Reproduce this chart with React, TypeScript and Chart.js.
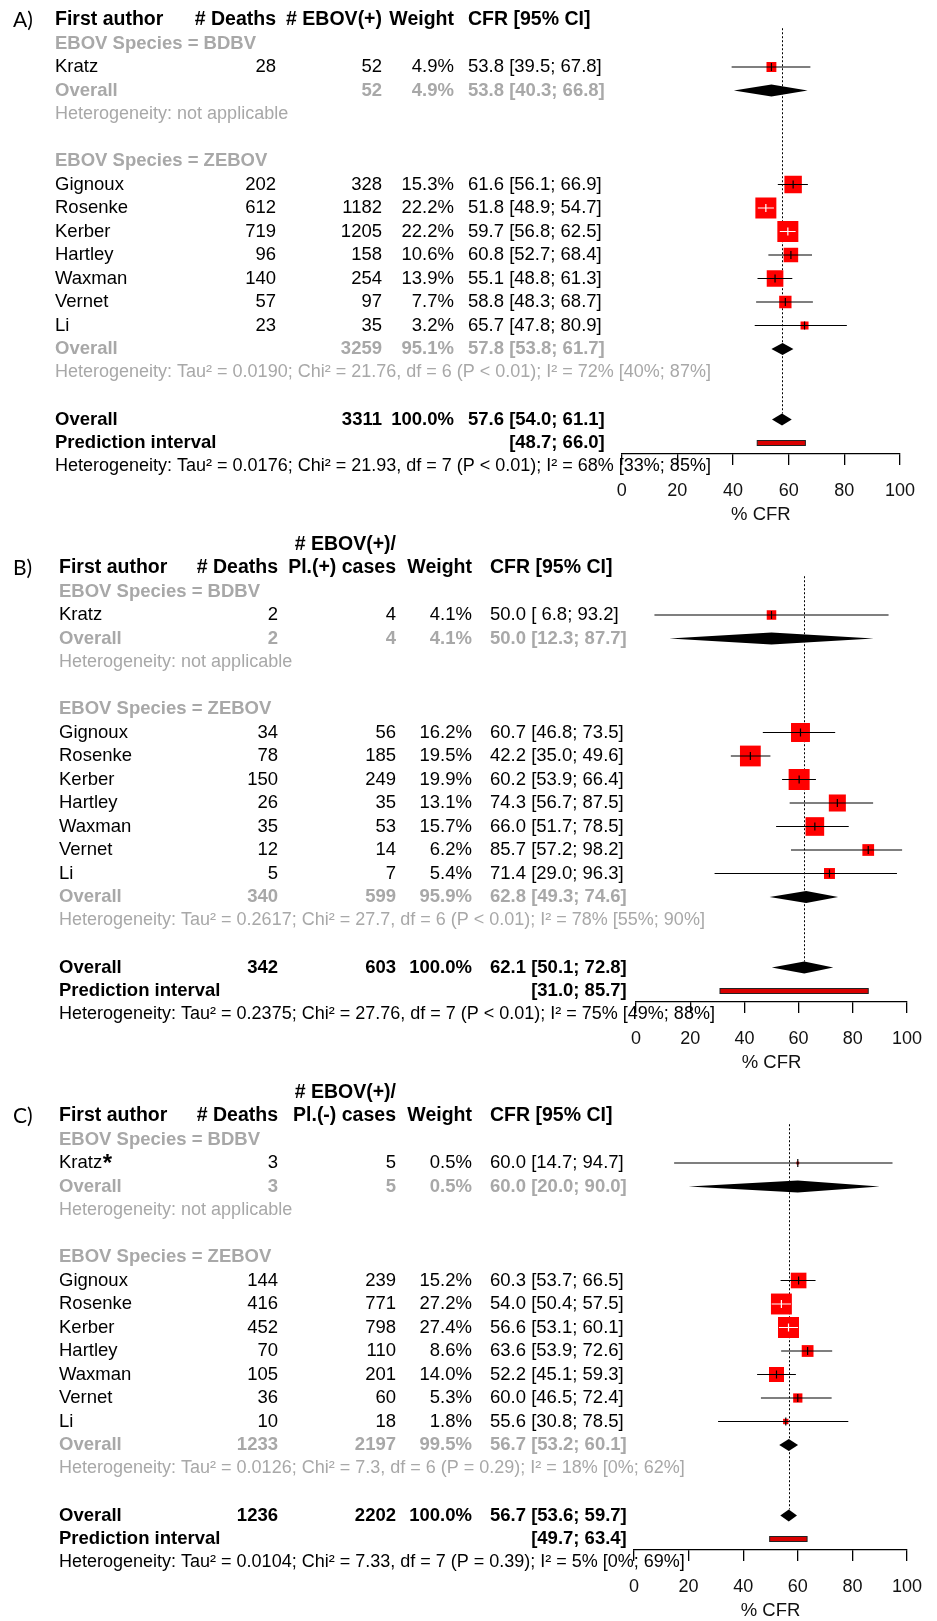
import React, { useEffect, useRef } from "react";
import { Chart, registerables } from "chart.js";

Chart.register(...registerables);

// ---------------- DATA ----------------
const studyNames = ["Kratz", "Gignoux", "Rosenke", "Kerber", "Hartley", "Waxman", "Vernet", "Li"];
const studyNamesC = ["Kratz*", "Gignoux", "Rosenke", "Kerber", "Hartley", "Waxman", "Vernet", "Li"];
const studyGroups = ["BDBV", "ZEBOV", "ZEBOV", "ZEBOV", "ZEBOV", "ZEBOV", "ZEBOV", "ZEBOV"];
const groupNames = ["BDBV", "ZEBOV"];
const groupLabels = ["EBOV Species = BDBV", "EBOV Species = ZEBOV"];
const xTicks = [0, 20, 40, 60, 80, 100];

// Panel A
const aDeaths = [28, 202, 612, 719, 96, 140, 57, 23];
const aCases = [52, 328, 1182, 1205, 158, 254, 97, 35];
const aWeight = [4.9, 15.3, 22.2, 22.2, 10.6, 13.9, 7.7, 3.2];
const aCfr = [53.8, 61.6, 51.8, 59.7, 60.8, 55.1, 58.8, 65.7];
const aLower = [39.5, 56.1, 48.9, 56.8, 52.7, 48.8, 48.3, 47.8];
const aUpper = [67.8, 66.9, 54.7, 62.5, 68.4, 61.3, 68.7, 80.9];
const aSubDeaths = [null, null];
const aSubCases = [52, 3259];
const aSubWeight = [4.9, 95.1];
const aSubCfr = [53.8, 57.8];
const aSubLower = [40.3, 53.8];
const aSubUpper = [66.8, 61.7];
const aSubHet = [
  "Heterogeneity: not applicable",
  "Heterogeneity: Tau² = 0.0190; Chi² = 21.76, df = 6 (P < 0.01); I² = 72% [40%; 87%]",
];
const aTotal = { deaths: null, cases: 3311, weight: 100.0, cfr: 57.6, lower: 54.0, upper: 61.1 };
const aPred = [48.7, 66.0];
const aTotalHet = "Heterogeneity: Tau² = 0.0176; Chi² = 21.93, df = 7 (P < 0.01); I² = 68% [33%; 85%]";

// Panel B
const bDeaths = [2, 34, 78, 150, 26, 35, 12, 5];
const bCases = [4, 56, 185, 249, 35, 53, 14, 7];
const bWeight = [4.1, 16.2, 19.5, 19.9, 13.1, 15.7, 6.2, 5.4];
const bCfr = [50.0, 60.7, 42.2, 60.2, 74.3, 66.0, 85.7, 71.4];
const bLower = [6.8, 46.8, 35.0, 53.9, 56.7, 51.7, 57.2, 29.0];
const bUpper = [93.2, 73.5, 49.6, 66.4, 87.5, 78.5, 98.2, 96.3];
const bSubDeaths = [2, 340];
const bSubCases = [4, 599];
const bSubWeight = [4.1, 95.9];
const bSubCfr = [50.0, 62.8];
const bSubLower = [12.3, 49.3];
const bSubUpper = [87.7, 74.6];
const bSubHet = [
  "Heterogeneity: not applicable",
  "Heterogeneity: Tau² = 0.2617; Chi² = 27.7, df = 6 (P < 0.01); I² = 78% [55%; 90%]",
];
const bTotal = { deaths: 342, cases: 603, weight: 100.0, cfr: 62.1, lower: 50.1, upper: 72.8 };
const bPred = [31.0, 85.7];
const bTotalHet = "Heterogeneity: Tau² = 0.2375; Chi² = 27.76, df = 7 (P < 0.01); I² = 75% [49%; 88%]";

// Panel C
const cDeaths = [3, 144, 416, 452, 70, 105, 36, 10];
const cCases = [5, 239, 771, 798, 110, 201, 60, 18];
const cWeight = [0.5, 15.2, 27.2, 27.4, 8.6, 14.0, 5.3, 1.8];
const cCfr = [60.0, 60.3, 54.0, 56.6, 63.6, 52.2, 60.0, 55.6];
const cLower = [14.7, 53.7, 50.4, 53.1, 53.9, 45.1, 46.5, 30.8];
const cUpper = [94.7, 66.5, 57.5, 60.1, 72.6, 59.3, 72.4, 78.5];
const cSubDeaths = [3, 1233];
const cSubCases = [5, 2197];
const cSubWeight = [0.5, 99.5];
const cSubCfr = [60.0, 56.7];
const cSubLower = [20.0, 53.2];
const cSubUpper = [90.0, 60.1];
const cSubHet = [
  "Heterogeneity: not applicable",
  "Heterogeneity: Tau² = 0.0126; Chi² = 7.3, df = 6 (P = 0.29); I² = 18% [0%; 62%]",
];
const cTotal = { deaths: 1236, cases: 2202, weight: 100.0, cfr: 56.7, lower: 53.6, upper: 59.7 };
const cPred = [49.7, 63.4];
const cTotalHet = "Heterogeneity: Tau² = 0.0104; Chi² = 7.33, df = 7 (P = 0.39); I² = 5% [0%; 69%]";

// ---------------- STYLE / LAYOUT ----------------
const FONT = "'Liberation Sans', Arial, Helvetica, sans-serif";
const F_HEAD = `bold 19.5px ${FONT}`;
const F_REG = `18.5px ${FONT}`;
const F_BOLD = `bold 18.5px ${FONT}`;
const F_HET = `18px ${FONT}`;
const F_STAR = `bold 24px ${FONT}`;
const F_LETTER = `21px Lato, 'Open Sans', sans-serif`;
const GRAY = "#a8a8a8";
const BLACK = "#000000";
const RED = "#ff0000";
const ROW_STEP = 23.5;
const AXIS_ROW = 18.47;
const MAX_SIDE = 21;
const TITLE_SIZE = 18.5;

const layoutA = { height: 530, rowTop: 20, letterX: 13, nameX: 55, deathsR: 276, casesR: 382, weightR: 454, cfrL: 468, axisL: 621.7, axisR: 900 };
const layoutB = { height: 548, rowTop: 38, letterX: 13, nameX: 59, deathsR: 278, casesR: 396, weightR: 472, cfrL: 490, axisL: 636, axisR: 914 };
const layoutC = { height: 543, rowTop: 38, letterX: 13, nameX: 59, deathsR: 278, casesR: 396, weightR: 472, cfrL: 490, axisL: 634, axisR: 912 };

function fmt1(v: number) {
  return v.toFixed(1);
}
function padCI(v: number) {
  return v < 10 ? " " + v.toFixed(1) : v.toFixed(1);
}
function ciText(est: number, lo: number, hi: number) {
  return `${fmt1(est)} [${padCI(lo)}; ${padCI(hi)}]`;
}

function buildPanel(
  letter: string, names: string[], headTop: string | null, headCases: string,
  deaths: number[], cases: number[], weight: number[], cfr: number[], lower: number[], upper: number[],
  subDeaths: any[], subCases: number[], subWeight: number[], subCfr: number[], subLower: number[], subUpper: number[], subHet: string[],
  total: any, pred: number[], totalHet: string, layout: any
) {
  let r = 1;
  const studyRows: number[] = [];
  const groupRows: number[] = [];
  const subRows: number[] = [];
  const hetRows: number[] = [];
  groupNames.forEach((g) => {
    groupRows.push(r++);
    names.forEach((_, i) => {
      if (studyGroups[i] === g) studyRows[i] = r++;
    });
    subRows.push(r++);
    hetRows.push(r++);
    r++;
  });
  return {
    letter, names, headTop, headCases, deaths, cases, weight, cfr, lower, upper,
    subDeaths, subCases, subWeight, subCfr, subLower, subUpper, subHet,
    total, pred, totalHet, layout,
    studyRows, groupRows, subRows, hetRows, totRow: r, predRow: r + 1, totHetRow: r + 2,
  };
}

const panels = [
  buildPanel("A)", studyNames, null, "# EBOV(+)", aDeaths, aCases, aWeight, aCfr, aLower, aUpper,
    aSubDeaths, aSubCases, aSubWeight, aSubCfr, aSubLower, aSubUpper, aSubHet, aTotal, aPred, aTotalHet, layoutA),
  buildPanel("B)", studyNames, "# EBOV(+)/", "Pl.(+) cases", bDeaths, bCases, bWeight, bCfr, bLower, bUpper,
    bSubDeaths, bSubCases, bSubWeight, bSubCfr, bSubLower, bSubUpper, bSubHet, bTotal, bPred, bTotalHet, layoutB),
  buildPanel("C)", studyNamesC, "# EBOV(+)/", "Pl.(-) cases", cDeaths, cCases, cWeight, cCfr, cLower, cUpper,
    cSubDeaths, cSubCases, cSubWeight, cSubCfr, cSubLower, cSubUpper, cSubHet, cTotal, cPred, cTotalHet, layoutC),
];

function txt(ctx: CanvasRenderingContext2D, s: string, x: number, y: number, font: string, color: string, align: CanvasTextAlign) {
  ctx.font = font;
  ctx.fillStyle = color;
  ctx.textAlign = align;
  ctx.textBaseline = "middle";
  ctx.fillText(s, x, y);
}

function makePlugin(p: any, sides: number[]) {
  const L = p.layout;
  return {
    id: "forest" + p.letter.charAt(0),
    beforeDatasetsDraw(chart: any) {
      const { ctx } = chart;
      const xs = chart.scales.x;
      const ys = chart.scales.y;
      const x = Math.round(xs.getPixelForValue(p.total.cfr)) + 0.5;
      ctx.save();
      ctx.setLineDash([2, 2]);
      ctx.strokeStyle = BLACK;
      ctx.lineWidth = 1;
      ctx.beginPath();
      ctx.moveTo(x, ys.getPixelForValue(0.35));
      ctx.lineTo(x, ys.getPixelForValue(p.totRow) - 6);
      ctx.stroke();
      ctx.restore();
    },
    afterDatasetsDraw(chart: any) {
      const { ctx } = chart;
      const xs = chart.scales.x;
      const ys = chart.scales.y;
      ctx.save();
      p.cfr.forEach((est: number, i: number) => {
        const y = ys.getPixelForValue(p.studyRows[i]);
        const xl = xs.getPixelForValue(p.lower[i]);
        const xu = xs.getPixelForValue(p.upper[i]);
        const xe = xs.getPixelForValue(est);
        const inside = xu - xl <= sides[i];
        ctx.strokeStyle = inside ? "#ffffff" : BLACK;
        ctx.lineWidth = 1.2;
        ctx.beginPath();
        ctx.moveTo(xl, y);
        ctx.lineTo(xu, y);
        ctx.moveTo(xe, y - 4);
        ctx.lineTo(xe, y + 4);
        ctx.stroke();
      });
      const diamond = (est: number, lo: number, hi: number, row: number) => {
        const y = ys.getPixelForValue(row);
        const xl = xs.getPixelForValue(lo);
        const xu = xs.getPixelForValue(hi);
        const xe = xs.getPixelForValue(est);
        ctx.fillStyle = BLACK;
        ctx.beginPath();
        ctx.moveTo(xl, y);
        ctx.lineTo(xe, y - 6);
        ctx.lineTo(xu, y);
        ctx.lineTo(xe, y + 6);
        ctx.closePath();
        ctx.fill();
      };
      p.subCfr.forEach((est: number, g: number) => diamond(est, p.subLower[g], p.subUpper[g], p.subRows[g]));
      diamond(p.total.cfr, p.total.lower, p.total.upper, p.totRow);
      const yp = ys.getPixelForValue(p.predRow);
      const pl = xs.getPixelForValue(p.pred[0]);
      const pu = xs.getPixelForValue(p.pred[1]);
      ctx.fillStyle = "#d90000";
      ctx.fillRect(pl, yp - 2.5, pu - pl, 5);
      ctx.strokeStyle = "#222222";
      ctx.lineWidth = 1;
      ctx.strokeRect(pl, yp - 2.5, pu - pl, 5);
      ctx.restore();
    },
    afterDraw(chart: any) {
      const { ctx } = chart;
      const ys = chart.scales.y;
      const Y = (row: number) => ys.getPixelForValue(row);
      ctx.save();
      txt(ctx, p.letter, L.letterX, Y(0), F_LETTER, BLACK, "left");
      txt(ctx, "First author", L.nameX, Y(0), F_HEAD, BLACK, "left");
      txt(ctx, "# Deaths", L.deathsR, Y(0), F_HEAD, BLACK, "right");
      if (p.headTop) txt(ctx, p.headTop, L.casesR, Y(-1), F_HEAD, BLACK, "right");
      txt(ctx, p.headCases, L.casesR, Y(0), F_HEAD, BLACK, "right");
      txt(ctx, "Weight", L.weightR, Y(0), F_HEAD, BLACK, "right");
      txt(ctx, "CFR [95% CI]", L.cfrL, Y(0), F_HEAD, BLACK, "left");
      groupNames.forEach((_, g) => {
        txt(ctx, groupLabels[g], L.nameX, Y(p.groupRows[g]), F_BOLD, GRAY, "left");
        const yo = Y(p.subRows[g]);
        txt(ctx, "Overall", L.nameX, yo, F_BOLD, GRAY, "left");
        if (p.subDeaths[g] !== null) txt(ctx, String(p.subDeaths[g]), L.deathsR, yo, F_BOLD, GRAY, "right");
        txt(ctx, String(p.subCases[g]), L.casesR, yo, F_BOLD, GRAY, "right");
        txt(ctx, fmt1(p.subWeight[g]) + "%", L.weightR, yo, F_BOLD, GRAY, "right");
        txt(ctx, ciText(p.subCfr[g], p.subLower[g], p.subUpper[g]), L.cfrL, yo, F_BOLD, GRAY, "left");
        txt(ctx, p.subHet[g], L.nameX, Y(p.hetRows[g]), F_HET, GRAY, "left");
      });
      p.names.forEach((n: string, i: number) => {
        const y = Y(p.studyRows[i]);
        if (n.endsWith("*")) {
          const base = n.slice(0, -1);
          txt(ctx, base, L.nameX, y, F_REG, BLACK, "left");
          ctx.font = F_REG;
          const w = ctx.measureText(base).width;
          txt(ctx, "*", L.nameX + w + 0.5, y + 1, F_STAR, BLACK, "left");
        } else {
          txt(ctx, n, L.nameX, y, F_REG, BLACK, "left");
        }
        txt(ctx, String(p.deaths[i]), L.deathsR, y, F_REG, BLACK, "right");
        txt(ctx, String(p.cases[i]), L.casesR, y, F_REG, BLACK, "right");
        txt(ctx, fmt1(p.weight[i]) + "%", L.weightR, y, F_REG, BLACK, "right");
        txt(ctx, ciText(p.cfr[i], p.lower[i], p.upper[i]), L.cfrL, y, F_REG, BLACK, "left");
      });
      const yt = Y(p.totRow);
      const t = p.total;
      txt(ctx, "Overall", L.nameX, yt, F_BOLD, BLACK, "left");
      if (t.deaths !== null) txt(ctx, String(t.deaths), L.deathsR, yt, F_BOLD, BLACK, "right");
      txt(ctx, String(t.cases), L.casesR, yt, F_BOLD, BLACK, "right");
      txt(ctx, fmt1(t.weight) + "%", L.weightR, yt, F_BOLD, BLACK, "right");
      txt(ctx, ciText(t.cfr, t.lower, t.upper), L.cfrL, yt, F_BOLD, BLACK, "left");
      const ypr = Y(p.predRow);
      txt(ctx, "Prediction interval", L.nameX, ypr, F_BOLD, BLACK, "left");
      ctx.font = F_BOLD;
      const off = ctx.measureText(fmt1(t.cfr) + " ").width;
      txt(ctx, `[${padCI(p.pred[0])}; ${padCI(p.pred[1])}]`, L.cfrL + off, ypr, F_BOLD, BLACK, "left");
      txt(ctx, p.totalHet, L.nameX, Y(p.totHetRow), F_HET, BLACK, "left");
      ctx.restore();
    },
  };
}

function makeConfig(p: any): any {
  const L = p.layout;
  const boxH = L.height - L.rowTop - AXIS_ROW * ROW_STEP;
  const titlePad = Math.max(0, boxH - 61 - TITLE_SIZE / 2);
  const maxW = Math.max(...p.weight);
  const sides = p.weight.map((w: number) => MAX_SIDE * Math.sqrt(w / maxW));
  return {
    type: "scatter",
    data: {
      datasets: [
        {
          data: p.cfr.map((v: number, i: number) => ({ x: v, y: p.studyRows[i] })),
          pointStyle: "rect",
          pointRadius: sides.map((s: number) => s / Math.SQRT2),
          pointHoverRadius: sides.map((s: number) => s / Math.SQRT2),
          backgroundColor: RED,
          borderColor: RED,
          borderWidth: 0,
        },
      ],
    },
    options: {
      animation: false,
      responsive: false,
      maintainAspectRatio: false,
      events: [],
      layout: { padding: { left: L.axisL, right: 937 - L.axisR, top: L.rowTop, bottom: 0 } },
      plugins: { legend: { display: false }, tooltip: { enabled: false }, title: { display: false } },
      scales: {
        x: {
          type: "linear",
          min: 0,
          max: 100,
          afterBuildTicks: (scale: any) => {
            scale.ticks = xTicks.map((v) => ({ value: v }));
          },
          afterFit: (scale: any) => {
            scale.height = boxH;
          },
          ticks: {
            font: { family: FONT, size: 18 },
            color: "#111111",
            padding: 15,
            maxRotation: 0,
            autoSkip: false,
          },
          grid: { display: true, drawOnChartArea: false, drawTicks: true, tickLength: 11, color: BLACK, lineWidth: 1.3 },
          border: { display: true, color: BLACK, width: 1.3 },
          title: {
            display: true,
            text: "% CFR",
            color: "#111111",
            font: { family: FONT, size: TITLE_SIZE, lineHeight: 1 },
            padding: { top: 0, bottom: titlePad },
          },
        },
        y: { type: "linear", display: false, min: 0, max: AXIS_ROW, reverse: true },
      },
    },
    plugins: [makePlugin(p, sides)],
  };
}

function ForestPanel({ panel }: { panel: any }) {
  const ref = useRef<HTMLCanvasElement>(null);
  useEffect(() => {
    if (!ref.current) return;
    const chart = new Chart(ref.current, makeConfig(panel));
    return () => chart.destroy();
  }, [panel]);
  const h = panel.layout.height;
  return <canvas ref={ref} width={937} height={h} style={{ display: "block", width: 937, height: h }} />;
}

export default function App() {
  useEffect(() => {
    document.body.style.margin = "0";
  }, []);
  return (
    <div style={{ width: 937, background: "#ffffff", margin: 0 }}>
      {panels.map((p) => (
        <ForestPanel key={p.letter} panel={p} />
      ))}
    </div>
  );
}
